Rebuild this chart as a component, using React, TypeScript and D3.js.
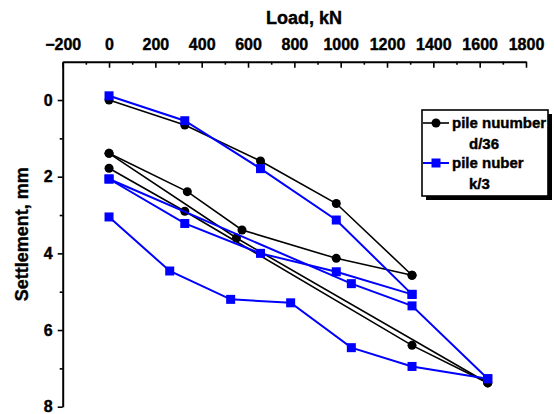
import React, { useEffect, useRef } from 'react';
import * as d3 from 'd3';

// pile d/36 (black)
const loadD1 = [0, 327, 654, 981, 1308];
const settD1 = [0.0, 0.65, 1.59, 2.7, 4.57];
const loadD2 = [0, 338, 574, 981, 1308];
const settD2 = [1.39, 2.39, 3.39, 4.13, 4.57];
const loadD3 = [0, 550, 1635];
const settD3 = [1.39, 3.6, 7.38];
const loadD4 = [0, 327, 1308, 1635];
const settD4 = [1.78, 2.9, 6.4, 7.38];

// pile k/3 (blue)
const loadK1 = [0, 327, 654, 981, 1308];
const settK1 = [-0.11, 0.54, 1.79, 3.13, 5.07];
const loadK2 = [0, 327, 654, 981, 1308];
const settK2 = [2.06, 3.22, 4.0, 4.48, 5.07];
const loadK3 = [0, 1046, 1308, 1635];
const settK3 = [2.06, 4.79, 5.37, 7.27];
const loadK4 = [0, 262, 525, 784, 1046, 1308, 1635];
const settK4 = [3.05, 4.46, 5.2, 5.29, 6.46, 6.95, 7.27];

const xTicks = [-200, 0, 200, 400, 600, 800, 1000, 1200, 1400, 1600, 1800];
const yTicks = [0, 2, 4, 6, 8];
const legendLabels = [['pile nuumber', 'd/36'], ['pile nuber', 'k/3']];

const FONT = "'Liberation Sans', Arial, sans-serif";

const zip = (xs: number[], ys: number[]) => xs.map((v, i) => [v, ys[i]] as [number, number]);

const App = () => {
  const ref = useRef<SVGSVGElement>(null);

  useEffect(() => {
    const svg = d3.select(ref.current);
    svg.selectAll('*').remove();

    const x = d3.scaleLinear().domain([-200, 1800]).range([62.7, 526]);
    const y = d3.scaleLinear().domain([-1, 8]).range([61.7, 406.7]);

    const black = [zip(loadD1, settD1), zip(loadD2, settD2), zip(loadD3, settD3), zip(loadD4, settD4)];
    const blue = [zip(loadK1, settK1), zip(loadK2, settK2), zip(loadK3, settK3), zip(loadK4, settK4)];

    const line = d3.line<[number, number]>().x(d => x(d[0])).y(d => y(d[1]));

    // bold text helper – a thin stroke makes it as heavy as the original
    const heavy = (sel: any, size: number) => sel
      .attr('font-family', FONT).attr('font-weight', 'bold').attr('font-size', size)
      .attr('fill', '#000').attr('stroke', '#000').attr('stroke-width', 0.4);

    // top axis
    const gx = svg.append('g').attr('transform', `translate(0,${y(-1)})`);
    gx.call(d3.axisTop(x).tickValues(xTicks).tickSizeInner(-6).tickSizeOuter(0).tickPadding(12).tickFormat(d3.format('d')));
    const gxm = svg.append('g').attr('transform', `translate(0,${y(-1)})`);
    gxm.call(d3.axisTop(x).tickValues(d3.range(-100, 1800, 200)).tickSize(-3).tickFormat(() => ''));
    gxm.select('.domain').remove();

    // left axis
    const gy = svg.append('g').attr('transform', `translate(${x(-200)},0)`);
    gy.call(d3.axisLeft(y).tickValues(yTicks).tickSizeInner(5).tickSizeOuter(0).tickPadding(5));
    const gym = svg.append('g').attr('transform', `translate(${x(-200)},0)`);
    gym.call(d3.axisLeft(y).tickValues([1, 3, 5, 7]).tickSize(3).tickFormat(() => ''));
    gym.select('.domain').remove();

    svg.selectAll('.domain').attr('stroke', '#000').attr('stroke-width', 2);
    svg.selectAll('.tick line').attr('stroke', '#000').attr('stroke-width', 1.6);
    heavy(svg.selectAll('.tick text'), 16);

    // titles
    heavy(svg.append('text')
      .attr('x', 304).attr('y', 24)
      .attr('text-anchor', 'middle'), 18)
      .text('Load, kN');
    heavy(svg.append('text')
      .attr('transform', `translate(28,${(y(-1) + y(8)) / 2}) rotate(-90)`)
      .attr('text-anchor', 'middle'), 18)
      .text('Settlement, mm');

    // black series
    black.forEach(s => {
      svg.append('path').datum(s)
        .attr('fill', 'none').attr('stroke', '#000').attr('stroke-width', 1.6)
        .attr('d', line);
    });
    black.forEach(s => {
      svg.append('g').selectAll('circle').data(s).join('circle')
        .attr('cx', d => x(d[0])).attr('cy', d => y(d[1])).attr('r', 4.5)
        .attr('fill', '#000');
    });

    // blue series
    blue.forEach(s => {
      svg.append('path').datum(s)
        .attr('fill', 'none').attr('stroke', '#0000ff').attr('stroke-width', 2)
        .attr('d', line);
    });
    blue.forEach(s => {
      svg.append('g').selectAll('rect').data(s).join('rect')
        .attr('x', d => x(d[0]) - 4.5).attr('y', d => y(d[1]) - 4.5)
        .attr('width', 9).attr('height', 9)
        .attr('fill', '#0000ff');
    });

    // legend
    const lg = svg.append('g').attr('transform', 'translate(422,110)');
    lg.append('rect').attr('x', 4).attr('y', 4).attr('width', 126).attr('height', 86).attr('fill', '#000');
    lg.append('rect').attr('x', 0).attr('y', 0).attr('width', 126).attr('height', 86)
      .attr('fill', '#fff').attr('stroke', '#000').attr('stroke-width', 1.6);

    const colors = ['#000', '#0000ff'];
    legendLabels.forEach((lab, i) => {
      const cy = 13 + i * 40;
      lg.append('line').attr('x1', 1).attr('x2', 27).attr('y1', cy).attr('y2', cy)
        .attr('stroke', colors[i]).attr('stroke-width', i === 0 ? 1.6 : 2);
      if (i === 0) {
        lg.append('circle').attr('cx', 14).attr('cy', cy).attr('r', 4.5).attr('fill', colors[i]);
      } else {
        lg.append('rect').attr('x', 9.5).attr('y', cy - 4.5).attr('width', 9).attr('height', 9).attr('fill', colors[i]);
      }
      heavy(lg.append('text').attr('x', 30).attr('y', cy + 5), 15).text(lab[0]);
      heavy(lg.append('text').attr('x', 47).attr('y', cy + 26), 15).text(lab[1]);
    });
  }, []);

  return (
    <svg ref={ref} width={554} height={414}
      style={{ position: 'absolute', left: 0, top: 0, background: '#fff' }} />
  );
};

export default App;
